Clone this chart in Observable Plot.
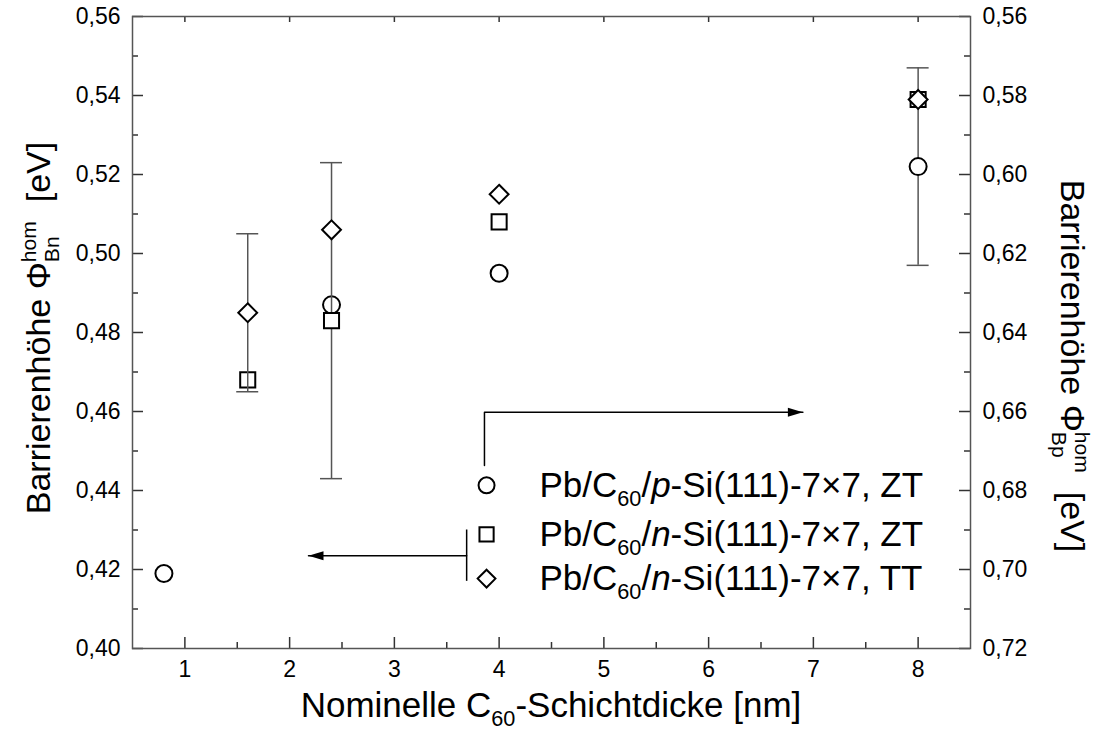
<!DOCTYPE html>
<html>
<head>
<meta charset="utf-8">
<script src="https://cdn.jsdelivr.net/npm/d3@7"></script>
<script src="https://cdn.jsdelivr.net/npm/@observablehq/plot@0.6"></script>
<style>
  html, body { margin: 0; padding: 0; background: #fff; }
  #chart { width: 1109px; height: 733px; }
</style>
</head>
<body>
<div id="chart"></div>
<script>
// Nominal C60 film thickness (nm) and homogeneous barrier height (eV, left scale)
const pZT_x = [0.8, 2.4, 4, 8];
const pZT_y = [0.419, 0.487, 0.495, 0.522];
const nZT_x = [1.6, 2.4, 4, 8];
const nZT_y = [0.468, 0.483, 0.508, 0.539];
const nTT_x = [1.6, 2.4, 4, 8];
const nTT_y = [0.485, 0.506, 0.515, 0.539];

// Error bars: thickness, value, half-width
const pZT_err = [[8, 0.522, 0.025]];
const nZT_err = [[2.4, 0.483, 0.040]];
const nTT_err = [[1.6, 0.485, 0.020]];

// Axis ticks
const xTicks = [1, 2, 3, 4, 5, 6, 7, 8];
const xMinorTicks = [1.5, 2.5, 3.5, 4.5, 5.5, 6.5, 7.5];
const yTicks = [0.40, 0.42, 0.44, 0.46, 0.48, 0.50, 0.52, 0.54, 0.56];
const yMinorTicks = [0.41, 0.43, 0.45, 0.47, 0.49, 0.51, 0.53, 0.55];
const rightTicks = [0.72, 0.70, 0.68, 0.66, 0.64, 0.62, 0.60, 0.58, 0.56]; // Φ_Bp = 1.12 − Φ_Bn

// Legend entries
const seriesLabels = [
  ["Pb/C", {sub: "60"}, "/", {i: "p"}, "-Si(111)-7×7, ZT"],
  ["Pb/C", {sub: "60"}, "/", {i: "n"}, "-Si(111)-7×7, ZT"],
  ["Pb/C", {sub: "60"}, "/", {i: "n"}, "-Si(111)-7×7, TT"]
];

// Annotation placement (data units)
const legendSymX = 3.88, legendTextX = 4.39;
const legendRowsY = [0.4413, 0.4289, 0.4177];
const rightArrow = [{x: 3.86, y: 0.4463}, {x: 3.86, y: 0.4598}, {x: 6.90, y: 0.4598}];
const leftArrow = [{x: 3.69, y: 0.4235}, {x: 2.18, y: 0.4235}];
const leftArrowBar = {x: 3.69, y1: 0.4170, y2: 0.4300};

const W = 1109, H = 733;
const mL = 132, mR = 139, mT = 16, mB = 85;
const innerW = W - mL - mR, innerH = H - mT - mB;

const table = (xs, ys) => xs.map((x, i) => ({x, y: ys[i]}));
const fmt = d => d.toFixed(2).replace(".", ",");
const errRules = e => e.map(([x, y, d]) => ({x, y1: y - d, y2: y + d}));
const errCaps = e => e.flatMap(([x, y, d]) => [{x, y: y - d}, {x, y: y + d}]);

const arrowHeadRight = {draw(ctx) { ctx.moveTo(0, 0); ctx.lineTo(-15, -4.5); ctx.lineTo(-15, 4.5); ctx.closePath(); }};
const arrowHeadLeft = {draw(ctx) { ctx.moveTo(0, 0); ctx.lineTo(15, -4.5); ctx.lineTo(15, 4.5); ctx.closePath(); }};

const markerStyle = {r: 8.5, stroke: "black", strokeWidth: 2, fill: "white"};
const legendMarker = {r: 8, stroke: "black", strokeWidth: 2, fill: "white"};
const errStyle = {stroke: "#555", strokeWidth: 1.5};

function errorBars(e) {
  return [
    Plot.ruleX(errRules(e), {x: "x", y1: "y1", y2: "y2", ...errStyle}),
    Plot.ruleY(errCaps(e), {y: "y", x1: "x", x2: "x", insetLeft: -11, insetRight: -11, ...errStyle})
  ];
}

const tickStyle = {stroke: "#333", strokeWidth: 1.5};

const chart = Plot.plot({
  width: W,
  height: H,
  marginLeft: mL,
  marginRight: mR,
  marginTop: mT,
  marginBottom: mB,
  style: {fontFamily: "'Liberation Sans', Arial, sans-serif", background: "white", color: "black", overflow: "visible"},
  x: {domain: [0.5, 8.5]},
  y: {domain: [0.40, 0.56]},
  marks: [
    // inward ticks on all four sides
    Plot.ruleX(xTicks, {x: d => d, insetTop: innerH - 11, ...tickStyle}),
    Plot.ruleX(xMinorTicks, {x: d => d, insetTop: innerH - 6, ...tickStyle}),
    Plot.ruleX(xTicks, {x: d => d, insetBottom: innerH - 6, ...tickStyle}),
    Plot.ruleY(yTicks, {y: d => d, insetRight: innerW - 11, ...tickStyle}),
    Plot.ruleY(yMinorTicks, {y: d => d, insetRight: innerW - 6, ...tickStyle}),
    Plot.ruleY(yTicks, {y: d => d, insetLeft: innerW - 11, ...tickStyle}),
    Plot.ruleY(yMinorTicks, {y: d => d, insetLeft: innerW - 6, ...tickStyle}),
    Plot.frame({stroke: "#555", strokeWidth: 1.5}),

    Plot.axisX({ticks: xTicks, tickSize: 0, tickPadding: 12, fontSize: 23, label: null, tickFormat: d => String(d)}),
    Plot.axisY({ticks: yTicks, tickSize: 0, tickPadding: 12, fontSize: 23, label: null, tickFormat: fmt}),
    Plot.axisY({anchor: "right", ticks: rightTicks.map(v => 1.12 - v), tickSize: 0, tickPadding: 12, fontSize: 23, label: null, tickFormat: d => fmt(1.12 - d)}),

    // axis pointers from the legend
    Plot.line(rightArrow, {x: "x", y: "y", stroke: "black", strokeWidth: 1.5}),
    Plot.dot(rightArrow.slice(-1), {x: "x", y: "y", symbol: arrowHeadRight, fill: "black", stroke: "none"}),
    Plot.line(leftArrow, {x: "x", y: "y", stroke: "black", strokeWidth: 1.5}),
    Plot.dot(leftArrow.slice(-1), {x: "x", y: "y", symbol: arrowHeadLeft, fill: "black", stroke: "none"}),
    Plot.ruleX([leftArrowBar], {x: "x", y1: "y1", y2: "y2", stroke: "black", strokeWidth: 1.5}),

    // data series
    ...errorBars(pZT_err),
    Plot.dot(table(pZT_x, pZT_y), {x: "x", y: "y", symbol: "circle", ...markerStyle}),
    ...errorBars(nZT_err),
    Plot.dot(table(nZT_x, nZT_y), {x: "x", y: "y", symbol: "square", ...markerStyle}),
    ...errorBars(nTT_err),
    Plot.dot(table(nTT_x, nTT_y), {x: "x", y: "y", symbol: "diamond2", ...markerStyle}),

    // legend symbols
    Plot.dot([legendRowsY[0]], {x: legendSymX, y: d => d, symbol: "circle", ...legendMarker}),
    Plot.dot([legendRowsY[1]], {x: legendSymX, y: d => d, symbol: "square", ...legendMarker}),
    Plot.dot([legendRowsY[2]], {x: legendSymX, y: d => d, symbol: "diamond2", ...legendMarker})
  ]
});

document.getElementById("chart").append(chart);

// Rich text with italics, subscripts and stacked sub/superscripts
function richText(parent, parts, size) {
  const text = parent.append("text")
    .attr("font-size", size)
    .attr("fill", "black")
    .attr("text-anchor", "start")
    .attr("font-family", "'Liberation Sans', Arial, sans-serif");
  let dy = 0, dx = 0;
  const span = (str, attrs = {}) => {
    const t = text.append("tspan").text(str);
    if (dy) t.attr("dy", dy);
    if (dx) t.attr("dx", dx);
    dy = 0; dx = 0;
    for (const k in attrs) t.attr(k, attrs[k]);
    return t;
  };
  const small = size * 0.62;
  const up = size * 0.42, down = size * 0.26;
  for (const p of parts) {
    if (typeof p === "string") span(p);
    else if (p.i) span(p.i, {"font-style": "italic"});
    else if (p.sub && p.sup) {
      dy = -up;
      const a = span(p.sup, {"font-size": small});
      const wa = a.node().getComputedTextLength();
      dy = up + down; dx = -wa;
      const b = span(p.sub, {"font-size": small});
      const wb = b.node().getComputedTextLength();
      dy = -down; dx = Math.max(0, wa - wb);
    } else if (p.sub) {
      dy = down;
      span(p.sub, {"font-size": small});
      dy = -down;
    }
  }
  return text;
}

const svg = d3.select(chart);
const xs = chart.scale("x"), ys = chart.scale("y");

// legend labels
legendRowsY.forEach((v, i) => {
  richText(svg, seriesLabels[i], 35)
    .attr("x", xs.apply(legendTextX))
    .attr("y", ys.apply(v) + 12);
});

// axis titles
function centeredTitle(transform, parts, size) {
  const g = svg.append("g").attr("transform", transform);
  const t = richText(g, parts, size);
  const w = t.node().getBBox().width;
  t.attr("x", -w / 2);
  return t;
}
const cx = mL + innerW / 2;
centeredTitle(`translate(${cx},717)`, ["Nominelle C", {sub: "60"}, "-Schichtdicke [nm]"], 35);
centeredTitle(`translate(50,328) rotate(-90)`, ["Barrierenhöhe Φ", {sup: "hom", sub: "Bn"}, "  [eV]"], 34);
centeredTitle(`translate(1061,366) rotate(90)`, ["Barrierenhöhe Φ", {sup: "hom", sub: "Bp"}, "  [eV]"], 34);
</script>
</body>
</html>
